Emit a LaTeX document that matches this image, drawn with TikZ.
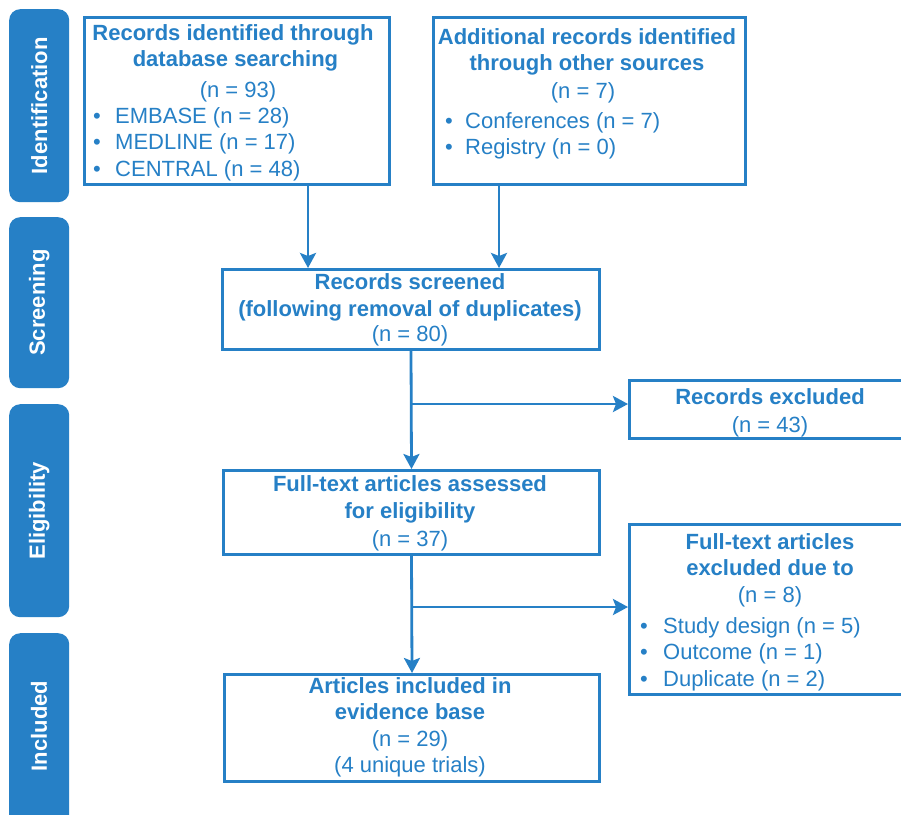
\documentclass[tikz,border=0pt]{standalone}
\usepackage{fontspec}
\setmainfont{Liberation Sans}
\usetikzlibrary{arrows.meta}
\definecolor{pblue}{RGB}{38,128,198}
\begin{document}
\begin{tikzpicture}[x=1pt,y=-1pt,
  box/.style={draw=pblue, line width=3pt, fill=white, inner sep=0pt, anchor=north west},
  bar/.style={fill=pblue, rounded corners=11pt, inner sep=0pt, anchor=north west, minimum width=60pt},
  bartext/.style={text=white, font=\fontsize{22}{26}\selectfont\bfseries, rotate=90, inner sep=0pt},
  ttl/.style={text=pblue, font=\fontsize{22}{26}\selectfont\bfseries, anchor=base, inner sep=0pt},
  txt/.style={text=pblue, font=\fontsize{22}{26}\selectfont, anchor=base, inner sep=0pt},
  lst/.style={txt, anchor=base west},
  arr/.style={draw=pblue, line width=2.8pt, -{Stealth[length=15pt,width=16pt,inset=3pt]}},
]
\useasboundingbox (0,0) rectangle (901,814);
\fill[white] (0,0) rectangle (901,814);

% stage bars
\node[bar, minimum height=193pt] (bid) at (9,9) {};
\node[bartext] (tid) at (bid.center) {Identification};
\node[bar, minimum height=171pt] (bsc) at (9,217) {};
\node[bartext] (tsc) at (bsc.center) {Screening};
\node[bar, minimum height=213pt] (bel) at (9,404) {};
\node[bartext] (tel) at (bel.center) {Eligibility};
\node[bar, minimum height=200pt] (bin) at (9,633) {};
\node[bartext] (tin) at (9+30,726) {Included};

% boxes
\node[box, minimum width=305pt, minimum height=167pt] (b1) at (83,16) {};
\node[box, minimum width=312pt, minimum height=167pt] (b2) at (432,16) {};
\node[box, minimum width=377pt, minimum height=80pt] (scr) at (221,268) {};
\node[box, minimum width=290pt, minimum height=58pt] (rex) at (628,379) {};
\node[box, minimum width=376pt, minimum height=84pt] (ft) at (222,469) {};
\node[box, minimum width=290pt, minimum height=170pt] (exd) at (628,523) {};
\node[box, minimum width=375pt, minimum height=107pt] (inc) at (223,673) {};

% box 1 text
\node[ttl] (b1a) at (233,40) {Records identified through};
\node[ttl] (b1b) at (235.5,66) {database searching};
\node[txt] (b1c) at (238,97) {(n = 93)};
\node[lst] (b1d1) at (93,123) {•};
\node[lst] (b1d) at (115,123) {EMBASE (n = 28)};
\node[lst] (b1e1) at (93,149) {•};
\node[lst] (b1e) at (115,149) {MEDLINE (n = 17)};
\node[lst] (b1f1) at (93,176) {•};
\node[lst] (b1f) at (115,176) {CENTRAL (n = 48)};

% box 2 text
\node[ttl] (b2a) at (587,44) {Additional records identified};
\node[ttl] (b2b) at (587,70) {through other sources};
\node[txt] (b2c) at (583,98) {(n = 7)};
\node[lst] (b2d1) at (445,128) {•};
\node[lst] (b2d) at (465,128) {Conferences (n = 7)};
\node[lst] (b2e1) at (445,154) {•};
\node[lst] (b2e) at (465,154) {Registry (n = 0)};

% screened
\node[ttl] (sa) at (410,289) {Records screened};
\node[ttl] (sb) at (410,316) {(following removal of duplicates)};
\node[txt] (sc) at (410,341) {(n = 80)};

% records excluded
\node[ttl] (ra) at (770,404) {Records excluded};
\node[txt] (rb) at (770,432) {(n = 43)};

% full text
\node[ttl] (fa) at (410,491) {Full-text articles assessed};
\node[ttl] (fb) at (410,518) {for eligibility};
\node[txt] (fc) at (410,546) {(n = 37)};

% excluded due to
\node[ttl] (ea) at (770,549) {Full-text articles};
\node[ttl] (eb) at (770,575) {excluded due to};
\node[txt] (ec) at (770,602) {(n = 8)};
\node[lst] (ed1) at (640,633) {•};
\node[lst] (ed) at (663,633) {Study design (n = 5)};
\node[lst] (ee1) at (640,659) {•};
\node[lst] (ee) at (663,659) {Outcome (n = 1)};
\node[lst] (ef1) at (640,686) {•};
\node[lst] (ef) at (663,686) {Duplicate (n = 2)};

% included
\node[ttl] (ia) at (410,693) {Articles included in};
\node[ttl] (ib) at (410,719) {evidence base};
\node[txt] (ic) at (410,746) {(n = 29)};
\node[txt] (id) at (410,772) {(4 unique trials)};

% connectors
\coordinate (xa) at (308,0);
\coordinate (xb) at (499,0);
\coordinate (j1) at (410,404);
\coordinate (j2) at (410,607);
\draw[arr] (b1.south -| xa) -- (scr.north -| xa);
\draw[arr] (b2.south -| xb) -- (scr.north -| xb);
\draw[arr] (scr.south) -- (ft.north);
\draw[arr] (scr.south |- j1) -- (j1 -| rex.west);
\draw[arr] (ft.south) -- (inc.north);
\draw[arr] (ft.south |- j2) -- (j2 -| exd.west);
\end{tikzpicture}
\end{document}
